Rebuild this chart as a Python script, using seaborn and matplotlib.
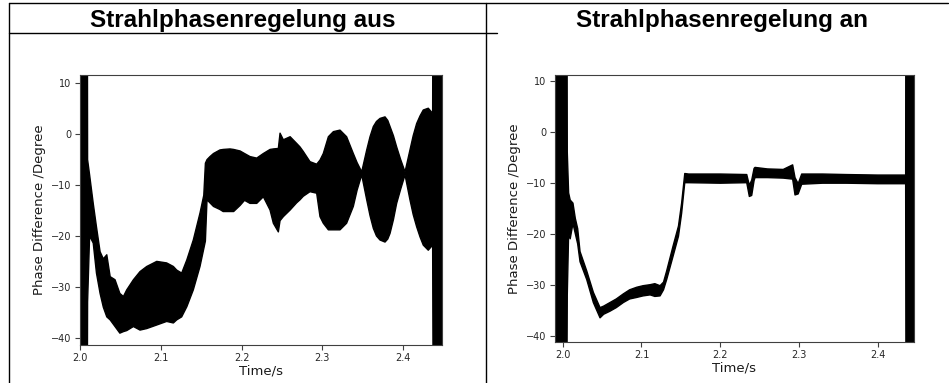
import numpy as np
import pandas as pd
import matplotlib
matplotlib.use("Agg")
import matplotlib.pyplot as plt
from matplotlib.lines import Line2D
import seaborn as sns

# ---------------- data (envelopes) ----------------
titles = ["Strahlphasenregelung aus", "Strahlphasenregelung an"]
x_label = "Time/s"
y_label = "Phase Difference /Degree"
x_ticks = [2.0, 2.1, 2.2, 2.3, 2.4]
y_ticks = [-40, -30, -20, -10, 0, 10]

# left panel: regulation off
t_off = [2.0000, 2.0085, 2.0090, 2.0115, 2.0160, 2.0200, 2.0245, 2.0285, 2.0328, 2.0370,
         2.0430, 2.0490, 2.0534, 2.0575, 2.0658, 2.0740, 2.0823, 2.0947, 2.1070, 2.1153,
         2.1194, 2.1256, 2.1320, 2.1400, 2.1483, 2.1530, 2.1550, 2.1570, 2.1607, 2.1650,
         2.1730, 2.1770, 2.1855, 2.1900, 2.1980, 2.2035, 2.2103, 2.2186, 2.2268, 2.2351,
         2.2392, 2.2454, 2.2475, 2.2516, 2.2600, 2.2680, 2.2722, 2.2763, 2.2846, 2.2929,
         2.2970, 2.3011, 2.3074, 2.3136, 2.3218, 2.3300, 2.3383, 2.3430, 2.3487, 2.3549,
         2.3590, 2.3631, 2.3670, 2.3714, 2.3776, 2.3810, 2.3838, 2.3880, 2.3920, 2.3970,
         2.4024, 2.4085, 2.4125, 2.4168, 2.4210, 2.4250, 2.4312, 2.4366,
         2.4374, 2.4482]
upper_off = [60, 60, -5.0, -8.0, -13.6, -18.2, -23.1, -24.5, -23.7, -28.0,
             -28.6, -31.3, -31.9, -30.6, -28.6, -27.0, -26.0, -25.0, -25.3, -26.0,
             -26.7, -27.3, -24.7, -20.8, -15.5, -12.0, -5.7, -5.0, -4.4, -3.8,
             -3.1, -3.0, -2.9, -3.0, -3.3, -3.8, -4.4, -4.7, -3.8, -3.0,
             -2.9, -2.8, 0.2, -1.1, -0.5, -1.8, -2.5, -3.4, -5.4, -5.9,
             -5.1, -3.8, -0.5, 0.5, 0.8, -0.5, -3.8, -5.6, -7.4, -3.1,
             -0.5, 1.5, 2.5, 3.1, 3.4, 2.7, 1.5, -0.3, -2.5, -5.0,
             -7.4, -3.1, -0.3, 2.1, 3.6, 4.75, 5.1, 4.1,
             60, 60]
lower_off = [-60, -60, -33.0, -20.0, -21.4, -27.3, -31.3, -34.0, -35.9, -36.5,
             -37.8, -39.1, -38.8, -38.6, -37.8, -38.5, -38.2, -37.5, -36.8, -37.1,
             -36.5, -35.9, -33.9, -30.6, -26.0, -22.5, -21.0, -12.9, -13.5, -14.2,
             -14.8, -15.2, -15.2, -15.2, -14.0, -13.0, -13.6, -13.6, -12.3, -14.9,
             -17.5, -19.2, -17.0, -16.2, -14.9, -13.5, -12.9, -12.2, -11.3, -11.6,
             -16.2, -17.5, -18.8, -18.8, -18.8, -17.5, -14.2, -11.0, -8.0, -12.9,
             -16.0, -18.5, -20.0, -20.8, -21.2, -20.6, -19.5, -16.8, -13.6, -10.8,
             -8.0, -12.9, -15.8, -18.2, -20.2, -21.8, -22.8, -21.8,
             -60, -60]

# right panel: regulation on
t_on = [1.9902, 2.0050, 2.0058, 2.0075, 2.0095, 2.0130, 2.0160, 2.0190, 2.0220, 2.0305,
        2.0389, 2.0474, 2.0520, 2.0600, 2.0680, 2.0770, 2.0850, 2.0940, 2.1020, 2.1110,
        2.1170, 2.1236, 2.1280, 2.1320, 2.1400, 2.1470, 2.1510, 2.1550, 2.1600, 2.2000,
        2.2337, 2.2370, 2.2400, 2.2430, 2.2442, 2.2600, 2.2800, 2.2920, 2.2950, 2.2990,
        2.3035, 2.3300, 2.3600, 2.4000, 2.4355, 2.4360, 2.4461]
upper_on = [60, 60, -4.0, -12.0, -13.4, -14.0, -17.0, -19.0, -23.5, -27.3,
            -31.5, -34.5, -34.2, -33.5, -32.8, -31.8, -31.0, -30.5, -30.2, -30.0,
            -29.8, -30.2, -29.5, -27.3, -22.5, -18.5, -14.0, -8.2, -8.3, -8.3,
            -8.4, -10.5, -9.5, -7.2, -7.0, -7.3, -7.4, -6.5, -9.0, -10.2,
            -8.3, -8.3, -8.4, -8.5, -8.5, 60, 60]
lower_on = [-60, -60, -32.0, -20.0, -21.0, -18.0, -20.0, -22.0, -25.5, -29.0,
            -33.5, -36.5, -35.8, -35.2, -34.5, -33.5, -32.8, -32.5, -32.2, -32.0,
            -32.3, -32.2, -31.0, -29.0, -24.5, -20.5, -16.0, -10.0, -10.0, -10.1,
            -10.0, -12.7, -12.5, -9.6, -9.0, -9.0, -9.1, -9.3, -12.4, -12.2,
            -10.3, -10.1, -10.1, -10.2, -10.2, -60, -60]

x_limits = [(1.9996, 2.4482), (1.9902, 2.4461)]
y_limits = [(-41.43, 11.63), (-41.18, 11.12)]

# ---------------- figure ----------------
W, H = 949, 383
sns.set_theme(style="ticks")
plt.rcParams.update({
    "axes.edgecolor": "0.25",
    "axes.linewidth": 0.8,
    "xtick.color": "0.25",
    "ytick.color": "0.25",
    "xtick.labelcolor": "0.15",
    "ytick.labelcolor": "0.15",
    "xtick.major.size": 3.5,
    "ytick.major.size": 3.5,
    "xtick.major.width": 0.8,
    "ytick.major.width": 0.8,
})
plt.rcParams["font.family"] = ["DejaVu Sans"]

fig = plt.figure(figsize=(W / 100, H / 100), dpi=100)

def fig_rect(x0, x1, ytop, ybot):
    return [x0 / W, (H - ybot) / H, (x1 - x0) / W, (ybot - ytop) / H]

axes = [fig.add_axes(fig_rect(80, 442, 75, 345)),
        fig.add_axes(fig_rect(555, 914, 75, 341.7))]

panels = [(t_off, upper_off, lower_off), (t_on, upper_on, lower_on)]
for i, (ax, (t, up, lo)) in enumerate(zip(axes, panels)):
    df = pd.DataFrame({"t": t, "upper": up, "lower": lo})
    ax.fill_between(df["t"], df["lower"], df["upper"], color="black", lw=0)
    sns.lineplot(data=df, x="t", y="upper", color="black", lw=1.0, ax=ax,
                 sort=False, estimator=None)
    sns.lineplot(data=df, x="t", y="lower", color="black", lw=1.0, ax=ax,
                 sort=False, estimator=None)
    ax.set_xlim(*x_limits[i])
    ax.set_ylim(*y_limits[i])
    ax.set_xticks(x_ticks)
    ax.set_xticklabels([f"{v:.1f}" for v in x_ticks])
    ax.set_yticks(y_ticks)
    ax.set_yticklabels([f"{v}".replace("-", "\u2212") for v in y_ticks])
    ax.tick_params(labelsize=7, pad=2.5)
    ax.set_xlabel(x_label, fontsize=9.5, color="0.1", labelpad=1)
    ax.set_ylabel(y_label, fontsize=9.5, color="0.1", labelpad=4)
    for s in ax.spines.values():
        s.set_visible(True)

# table-like frame lines (pixel coords from top-left)
def hline(y, x0, x1):
    fig.add_artist(Line2D([x0 / W, x1 / W], [1 - y / H, 1 - y / H],
                          transform=fig.transFigure, color="black", lw=1.0))

def vline(x, y0, y1):
    fig.add_artist(Line2D([x / W, x / W], [1 - y0 / H, 1 - y1 / H],
                          transform=fig.transFigure, color="black", lw=1.0))

hline(3, 9, 948)
hline(33, 9, 497)
vline(9, 3, 383)
vline(486, 3, 383)

title_x = [243, 722]
for tx, txt in zip(title_x, titles):
    fig.text(tx / W, 1 - 27 / H, txt, ha="center", va="baseline", color="black",
             fontsize=17.5, fontweight="bold", family=["Liberation Sans", "DejaVu Sans"])

fig.savefig("out.png", dpi=100)
